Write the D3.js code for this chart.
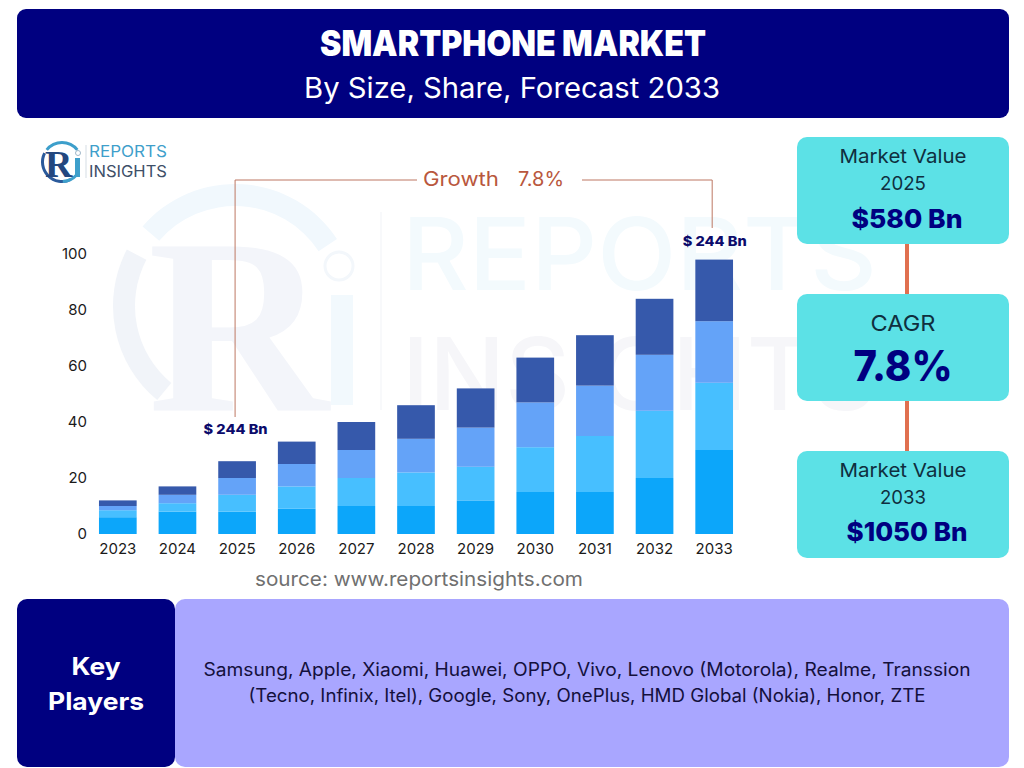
<!DOCTYPE html>
<html lang="en">
<head>
    <meta charset="UTF-8">
    <title>Smartphone Market</title>
    <script src="https://cdn.jsdelivr.net/npm/d3@7/dist/d3.min.js"></script>
    <style>
        html, body { margin: 0; padding: 0; background: #fff; }
        svg { display: block; }
        text { font-family: Inter, "Noto Sans", sans-serif; }
    </style>
</head>
<body>
<script>
    // chart data
    var years = ["2023", "2024", "2025", "2026", "2027", "2028", "2029", "2030", "2031", "2032", "2033"];
    var seriesA = [6, 8, 8, 9, 10, 10, 12, 15, 15, 20, 30];
    var seriesB = [2.5, 3, 6, 8, 10, 12, 12, 16, 20, 24, 24];
    var seriesC = [1.5, 3, 6, 8, 10, 12, 14, 16, 18, 20, 22];
    var seriesD = [2, 3, 6, 8, 10, 12, 14, 16, 18, 20, 22];
    var yTicks = [0, 20, 40, 60, 80, 100];
    var seriesColors = ["#0ca6fa", "#47bfff", "#64a3f8", "#3659ab"];
    var playersLines = [
        "Samsung, Apple, Xiaomi, Huawei, OPPO, Vivo, Lenovo (Motorola), Realme, Transsion",
        "(Tecno, Infinix, Itel), Google, Sony, OnePlus, HMD Global (Nokia), Honor, ZTE"
    ];

    var navy = "#000080", teal = "#5ce1e6", lilac = "#a9a6ff", rust = "#b9573d";

    var svg = d3.select("body").append("svg").attr("width", 1024).attr("height", 768);

    function label(g, str, x, y, size, weight, fill, width, anchor) {
        var t = g.append("text")
            .text(str)
            .attr("x", x)
            .attr("y", y)
            .attr("font-size", size)
            .attr("font-weight", weight)
            .attr("fill", fill)
            .attr("text-anchor", anchor || "middle");
        if (width) t.attr("textLength", width).attr("lengthAdjust", "spacingAndGlyphs");
        return t;
    }

    function box(x, y, w, h, fill, r) {
        svg.append("rect").attr("x", x).attr("y", y).attr("width", w).attr("height", h)
            .attr("rx", r).attr("fill", fill);
    }

    // watermark behind the plot
    var wm = svg.append("g");
    var ring = d3.arc().innerRadius(100).outerRadius(122);
    wm.append("path")
        .attr("transform", "translate(235,306)")
        .attr("d", ring({startAngle: -0.86, endAngle: 0.99}))
        .attr("fill", "#f1f8fd");
    wm.append("path")
        .attr("transform", "translate(235,306)")
        .attr("d", ring({startAngle: -2.45, endAngle: -1.09}))
        .attr("fill", "#f1f4f9");
    wm.append("text").text("R").attr("x", 148).attr("y", 410)
        .attr("font-size", 250).attr("font-weight", 700)
        .attr("fill", "#f3f5fa")
        .style("font-family", "'Liberation Serif', serif");
    wm.append("rect").attr("x", 331).attr("y", 295).attr("width", 22).attr("height", 110).attr("fill", "#f2f9fd");
    wm.append("circle").attr("cx", 339).attr("cy", 266).attr("r", 14)
        .attr("fill", "none").attr("stroke", "#f3f7fb").attr("stroke-width", 3);
    wm.append("line").attr("x1", 381).attr("x2", 381).attr("y1", 212).attr("y2", 410)
        .attr("stroke", "#f8f9fb").attr("stroke-width", 2);
    label(wm, "REPORTS", 402, 290, 100, 500, "#f3fafd", 475, "start");
    label(wm, "INSIGHTS", 402, 410, 100, 500, "#f6f6f9", 475, "start");

    // header
    box(17, 9, 992, 109, navy, 9);
    label(svg, "SMARTPHONE MARKET", 513, 56, 36, 900, "#fff", 386);
    label(svg, "By Size, Share, Forecast 2033", 512, 98, 28, 400, "#fff", 416);

    // logo top left
    var logo = svg.append("g");
    var logoRing = d3.arc().innerRadius(18).outerRadius(21);
    logo.append("path").attr("transform", "translate(62,162)")
        .attr("d", logoRing({startAngle: -3.6, endAngle: -1.1})).attr("fill", "#2b5a9b");
    logo.append("path").attr("transform", "translate(62,162)")
        .attr("d", logoRing({startAngle: -0.9, endAngle: 0.9})).attr("fill", "#3d9fcb");
    logo.append("path").attr("transform", "translate(62,162)")
        .attr("d", logoRing({startAngle: 2.3, endAngle: 3.1})).attr("fill", "#3d9fcb");
    logo.append("text").text("R").attr("x", 45).attr("y", 177)
        .attr("font-size", 38).attr("font-weight", 700).attr("fill", "#23477f")
        .style("font-family", "'Liberation Serif', serif");
    logo.append("rect").attr("x", 75).attr("y", 158).attr("width", 5).attr("height", 19).attr("fill", "#3d9fcb");
    logo.append("circle").attr("cx", 78).attr("cy", 153).attr("r", 2.5)
        .attr("fill", "none").attr("stroke", "#9fb7c9");
    logo.append("line").attr("x1", 86).attr("x2", 86).attr("y1", 145).attr("y2", 178).attr("stroke", "#d5dde4");
    label(logo, "REPORTS", 89, 157, 16, 400, "#3f9fcb", 78, "start");
    label(logo, "INSIGHTS", 89, 177, 16, 400, "#3e4f68", 78, "start");

    // stacked bars
    var x = d3.scaleBand().domain(years).range([88, 744]).paddingInner(0.368).paddingOuter(0.184);
    var y = d3.scaleLinear().domain([0, 100]).range([534, 254]);

    var rows = years.map(function (yr, i) {
        return {year: yr, a: seriesA[i], b: seriesB[i], c: seriesC[i], d: seriesD[i]};
    });
    var stacked = d3.stack().keys(["a", "b", "c", "d"])(rows);

    svg.append("g").selectAll("g")
        .data(stacked)
        .enter().append("g")
        .attr("fill", function (d, i) { return seriesColors[i]; })
        .selectAll("rect")
        .data(function (d) { return d; })
        .enter().append("rect")
        .attr("x", function (d) { return x(d.data.year); })
        .attr("y", function (d) { return y(d[1]); })
        .attr("width", x.bandwidth())
        .attr("height", function (d) { return y(d[0]) - y(d[1]); });

    // axes, only the labels are visible
    var yAxis = svg.append("g").attr("transform", "translate(87,0)")
        .call(d3.axisLeft(y).tickValues(yTicks).tickSize(0).tickPadding(0));
    var xAxis = svg.append("g").attr("transform", "translate(0,534)")
        .call(d3.axisBottom(x).tickSize(0).tickPadding(9));
    yAxis.select(".domain").remove();
    xAxis.select(".domain").remove();
    svg.selectAll(".tick text")
        .attr("font-size", 15)
        .attr("fill", "#1a1a1a")
        .style("font-family", "Inter, sans-serif");

    // growth bracket
    var bracket = d3.line();
    var bx0 = x("2025") + x.bandwidth() / 2 - 2, bx1 = x("2033") + x.bandwidth() / 2 - 2;
    svg.append("path").attr("d", bracket([[bx0, 417], [bx0, 180], [417, 180]]))
        .attr("fill", "none").attr("stroke", "#bd7763").attr("stroke-width", 1);
    svg.append("path").attr("d", bracket([[582, 180], [bx1, 180], [bx1, 228]]))
        .attr("fill", "none").attr("stroke", "#bd7763").attr("stroke-width", 1);
    label(svg, "Growth", 423, 186, 20, 400, rust, 76, "start");
    label(svg, "7.8%", 518, 186, 20, 400, rust, 46, "start");

    label(svg, "$ 244 Bn", bx0 + 0.5, 434, 13.5, 800, "#0b0b6b", 64);
    label(svg, "$ 244 Bn", bx1 + 2.5, 246, 13.5, 800, "#0b0b6b", 64);

    label(svg, "source: www.reportsinsights.com", 419, 586, 20, 400, "#707070", 328);

    // right column
    [[244, 294], [401, 451]].forEach(function (s) {
        svg.append("line").attr("x1", 907).attr("x2", 907).attr("y1", s[0]).attr("y2", s[1])
            .attr("stroke", "#e07050").attr("stroke-width", 4);
    });
    box(797, 137, 212, 107, teal, 10);
    box(797, 294, 212, 107, teal, 10);
    box(797, 451, 212, 107, teal, 10);

    var ink = "#0f2f3f";
    label(svg, "Market Value", 903, 163, 19, 400, ink, 127);
    label(svg, "2025", 903, 190, 19, 400, ink, 46);
    label(svg, "$580 Bn", 907, 228, 26, 800, navy, 111);
    label(svg, "CAGR", 903, 331, 22, 400, ink, 65);
    label(svg, "7.8%", 903, 381, 42, 800, navy, 99);
    label(svg, "Market Value", 903, 477, 19, 400, ink, 127);
    label(svg, "2033", 903, 504, 19, 400, ink, 46);
    label(svg, "$1050 Bn", 907, 541, 26, 800, navy, 121);

    // key players strip
    box(175, 599, 834, 168, lilac, 10);
    box(17, 599, 158, 168, navy, 10);
    label(svg, "Key", 96, 675, 24, 700, "#fff", 49);
    label(svg, "Players", 96, 710, 24, 700, "#fff", 96);
    label(svg, playersLines[0], 587, 676, 18, 400, "#14103c", 767);
    label(svg, playersLines[1], 587, 702, 18, 400, "#14103c", 677);
</script>
</body>
</html>
